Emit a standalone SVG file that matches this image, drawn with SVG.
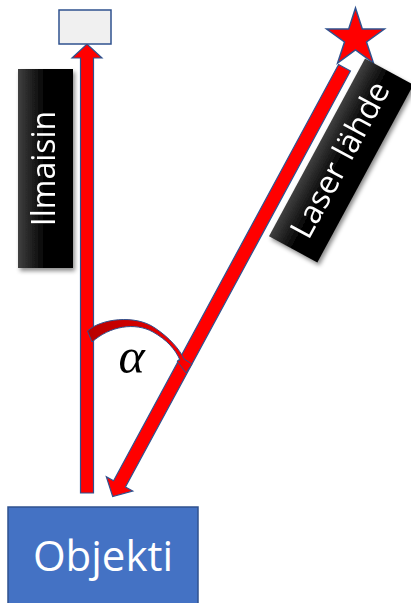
<svg xmlns="http://www.w3.org/2000/svg" width="411" height="603" viewBox="0 0 411 603">
<style>
.beam{fill:#ff0000;stroke:#2f528f;stroke-width:1.2;stroke-linejoin:miter}
.lbl{font-family:"Open Sans","Liberation Sans",sans-serif;fill:#ffffff;text-anchor:middle}
.tag{fill:url(#tagGrad)}
</style>
<defs>
<linearGradient id="tagGrad" x1="0" y1="0" x2="0" y2="1">
<stop offset="0" stop-color="#404040"/>
<stop offset="0.5" stop-color="#000000"/>
<stop offset="1" stop-color="#000000"/>
</linearGradient>
<linearGradient id="arcGrad" x1="0" y1="0" x2="1" y2="0">
<stop offset="0" stop-color="#b80000"/>
<stop offset="0.6" stop-color="#d80000"/>
<stop offset="1" stop-color="#ff0000"/>
</linearGradient>
<filter id="shadow" x="-20%" y="-20%" width="140%" height="140%">
<feDropShadow dx="2" dy="3" stdDeviation="2" flood-color="#000" flood-opacity="0.45"/>
</filter>
</defs>

<g id="connectors">
<polygon class="beam" points="80.5,493 80.5,58 72,58 87,44 102,58 93.5,58 93.5,493"/>
<g transform="translate(344.5,67.8) rotate(28.4)">
<polygon class="beam" points="-6.75,0 6.75,0 6.75,473 15,473 0,487.4 -15,473 -6.75,473"/>
</g>
<path fill="url(#arcGrad)" stroke="#2f528f" stroke-width="1" d="M87.5,331 C100,319 135,314 155,328 C170,338 180,350 184,359 L192,364 L186,373 L177,361 L180,360 C175,349 167,340 153,332 C135,322 110,326 92,342 Z"/>
</g>

<g id="detector">
<rect x="59" y="10" width="52" height="34" fill="#f0f0f0" stroke="#2f528f" stroke-width="1.5"/>
</g>

<g id="laser-star">
<polygon points="355.5,8 362.3,29 384.4,29 366.5,42 373.4,63 355.5,50 337.6,63 344.5,42 326.6,29 348.7,29" fill="#ff0000" stroke="#2f528f" stroke-width="1.5" stroke-linejoin="miter"/>
</g>

<g id="ilmaisin-label" filter="url(#shadow)">
<g transform="translate(45.5,168.5) rotate(-90)">
<rect class="tag" x="-99.5" y="-27.5" width="199" height="55"/>
<text class="lbl" x="0" y="9.5" font-size="32">Ilmaisin</text>
</g>
</g>

<g id="laser-label" filter="url(#shadow)">
<g transform="translate(341.2,160.5) rotate(-61.6)">
<rect class="tag" x="-101" y="-27.5" width="202" height="55"/>
<text class="lbl" x="0" y="9.5" font-size="32">Laser lähde</text>
</g>
</g>

<g id="angle-label">
<text x="131.5" y="373" font-family="'Liberation Serif','DejaVu Serif',serif" font-style="italic" font-size="50" text-anchor="middle" fill="#000">α</text>
</g>

<g id="objekti">
<rect x="8" y="507" width="190" height="100" fill="#4472c4" stroke="#2f528f" stroke-width="1.5"/>
<text class="lbl" x="103" y="571" font-size="42">Objekti</text>
</g>
</svg>
